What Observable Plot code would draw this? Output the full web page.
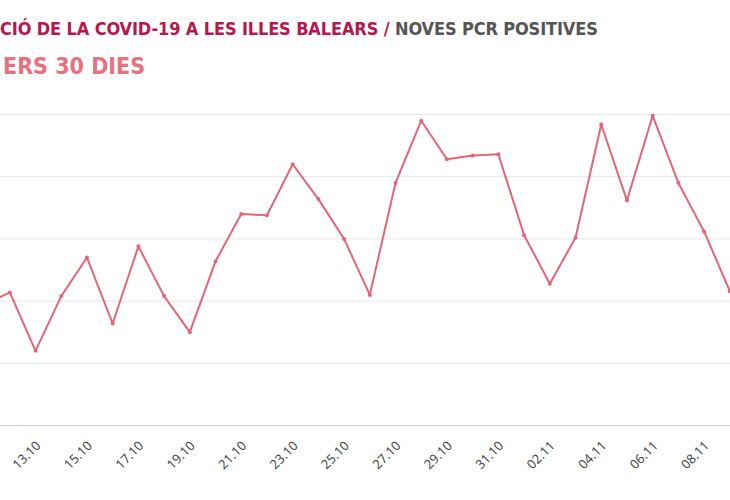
<!DOCTYPE html>
<html>
<head>
<meta charset="utf-8">
<script src="https://cdn.jsdelivr.net/npm/d3@7"></script>
<script src="https://cdn.jsdelivr.net/npm/@observablehq/plot@0.6"></script>
<style>
  html, body { margin: 0; padding: 0; background: #fff; }
  body { width: 730px; height: 500px; position: relative; overflow: hidden;
         font-family: "DejaVu Sans Condensed", "Liberation Sans Narrow", "Roboto", sans-serif; }
  .hdr { position: absolute; white-space: nowrap; font-weight: bold; font-stretch: condensed; }
  #title { top: 20px; left: 0px; font-size: 18px; line-height: 18px; letter-spacing: -0.13px; }
  #subtitle { top: 55px; left: 3px; font-size: 23px; line-height: 23px; color: #e8717f; }
  .c1 { color: #b5174e; }
  .c2 { color: #555555; }
  #chart { position: absolute; left: 0; top: 90px; }
</style>
</head>
<body>
<div id="title" class="hdr"><span class="c1">CIÓ DE LA COVID-19 A LES ILLES BALEARS /</span><span class="c2"> NOVES PCR POSITIVES</span></div>
<div id="subtitle" class="hdr">ERS 30 DIES</div>
<div id="chart"></div>
<script>
// ---- data ----
const dates = [
  "2020-10-11","2020-10-12","2020-10-13","2020-10-14","2020-10-15","2020-10-16",
  "2020-10-17","2020-10-18","2020-10-19","2020-10-20","2020-10-21","2020-10-22",
  "2020-10-23","2020-10-24","2020-10-25","2020-10-26","2020-10-27","2020-10-28",
  "2020-10-29","2020-10-30","2020-10-31","2020-11-01","2020-11-02","2020-11-03",
  "2020-11-04","2020-11-05","2020-11-06","2020-11-07","2020-11-08","2020-11-09"
];
const positives = [
  97, 107, 60, 104, 135, 82,
  144, 104, 75, 132, 170, 169,
  210, 182, 150, 105, 195, 245,
  214, 217, 218, 153, 114, 151,
  242, 181, 249, 195, 156, 108
];
const gridValues = [50, 100, 150, 200, 250];
const tickDates = [
  "2020-10-13","2020-10-15","2020-10-17","2020-10-19","2020-10-21","2020-10-23","2020-10-25",
  "2020-10-27","2020-10-29","2020-10-31","2020-11-02","2020-11-04","2020-11-06","2020-11-08"
];

const parse = d3.utcParse("%Y-%m-%d");
const fmt = d3.utcFormat("%d.%m");
const data = dates.map((d, i) => ({date: parse(d), value: positives[i]}));
const ticks = tickDates.map(parse);
const DAY = 864e5;
const first = parse("2020-10-12"), last = parse("2020-11-09");

const lineColor = "#e0667a";

const chart = Plot.plot({
  width: 730,
  height: 410,
  marginLeft: 0,
  marginRight: 0,
  marginTop: 24,
  marginBottom: 75,
  x: {type: "utc", domain: [new Date(+first - 0.362 * DAY), new Date(+last + 0.027 * DAY)], axis: null},
  y: {domain: [0, 250], axis: null},
  marks: [
    Plot.ruleY(gridValues, {stroke: "#e6e6e6", strokeWidth: 1}),
    Plot.ruleY([0], {stroke: "#cfcfcf", strokeWidth: 1.2}),
    Plot.line(data, {x: "date", y: "value", stroke: lineColor, strokeWidth: 2}),
    Plot.dot(data, {x: "date", y: "value", r: 2, fill: lineColor}),
    // x tick labels, rotated -45°
    Plot.text(ticks, {
      x: d => d,
      text: d => fmt(d),
      frameAnchor: "bottom",
      rotate: -45,
      textAnchor: "end",
      dx: 6,
      dy: 21,
      fontSize: 13,
      fill: "#4a4a4a"
    })
  ]
});
document.getElementById("chart").appendChild(chart);
</script>
</body>
</html>
